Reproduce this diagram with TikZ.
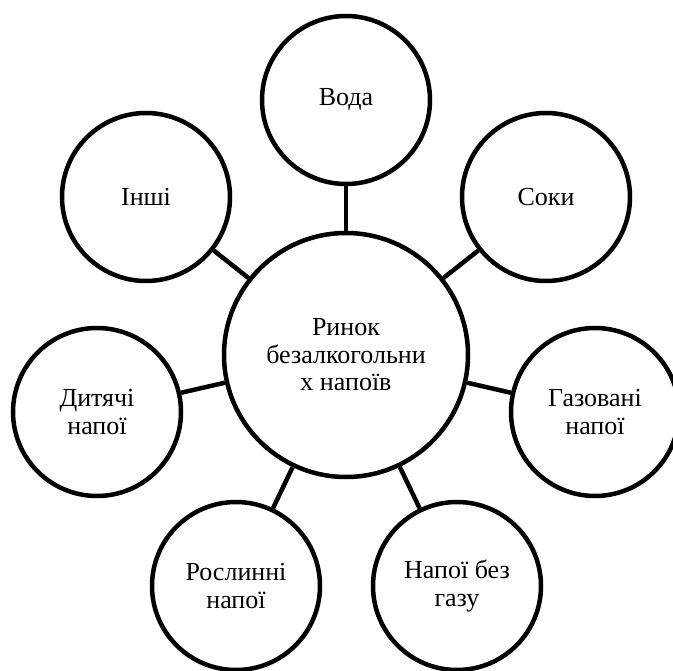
\documentclass[tikz,border=0pt]{standalone}
\usepackage{fontspec}
\setmainfont{Liberation Serif}
\begin{document}
\begin{tikzpicture}[x=1pt,y=-1pt,
  bubble/.style={circle,draw,line width=4.5pt,inner sep=0pt,minimum size=168pt,align=center,
    font=\fontsize{26}{27.5}\selectfont},
  hub/.style={bubble,minimum size=244pt},
  link/.style={line width=4.5pt}]
\useasboundingbox[fill=white] (0,0) rectangle (673,671);
\node[hub] (c) at (346,355) {Ринок\\безалкогольни\\х напоїв};
\node[bubble] (voda) at (346,100) {Вода};
\node[bubble] (soky) at (546,197) {Соки};
\node[bubble] (gaz) at (595,412) {Газовані\\напої};
\node[bubble] (bezgaz) at (457,586) {Напої без\\газу};
\node[bubble] (rosl) at (236,586) {Рослинні\\напої};
\node[bubble] (dyt) at (97,412) {Дитячі\\напої};
\node[bubble] (inshi) at (146,197) {Інші};
\foreach \n in {voda,soky,gaz,bezgaz,rosl,dyt,inshi}
  \draw[link] (c) -- (\n);
\end{tikzpicture}
\end{document}
